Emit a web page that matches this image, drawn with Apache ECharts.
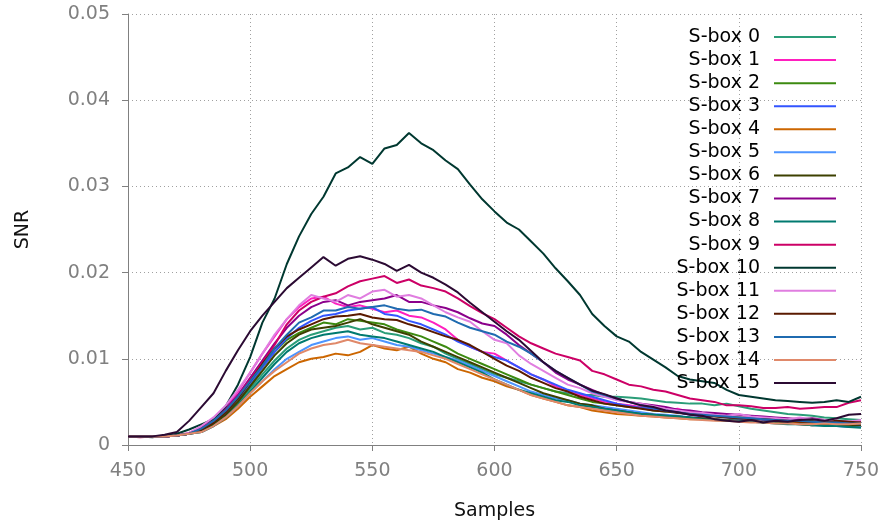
<!DOCTYPE html>
<html>
<head>
<meta charset="utf-8">
<title>SNR per S-box</title>
<script src="https://cdn.jsdelivr.net/npm/echarts@6/dist/echarts.min.js"></script>
<style>
  html, body { margin: 0; padding: 0; background: #fff; }
  #chart { width: 883px; height: 524px; }
</style>
</head>
<body>
<div id="chart"></div>
<script>
// x positions (samples), every 5th sample
const samples = [450,455,460,465,470,475,480,485,490,495,500,505,510,515,520,525,530,535,540,545,550,555,560,565,570,575,580,585,590,595,600,605,610,615,620,625,630,635,640,645,650,655,660,665,670,675,680,685,690,695,700,705,710,715,720,725,730,735,740,745,750]

// SNR values, in units of 1e-3
const sbox0 = [1.0,1.0,1.0,1.0,1.1,1.3, 1.6,2.3,3.4,4.8,6.5,8.2,9.8,11.2,12.2,12.8, 13.2,13.6,13.8,13.4,13.6,13.0,12.8,12.4,11.8,11.4, 10.6,10.0,9.4,8.8,8.2,7.8,7.4,7.0,6.6,6.2, 6.0,5.8,5.8,5.6,5.6,5.5,5.4,5.2,5.0,4.9, 4.8,4.8,4.6,4.8,4.5,4.2,4.0,3.8,3.6,3.5, 3.4,3.2,3.1,3.0,2.9]
const sbox1 = [1.0,1.0,1.0,1.0,1.1,1.3, 2.0,3.0,4.4,6.2,8.4,10.6,12.6,14.6,16.0,17.0, 17.2,16.4,16.0,16.2,15.8,15.4,15.6,15.0,14.8,14.2, 13.4,12.2,11.4,10.8,10.6,9.8,9.0,8.2,7.6,6.8, 6.2,5.8,5.4,5.0,4.8,4.6,4.4,4.2,4.0,4.2, 3.8,3.6,3.4,3.3,3.2,3.2,3.0,3.1,2.9,2.8, 2.9,2.7,2.7,2.6,2.8]
const sbox2 = [1.0,1.0,1.0,1.0,1.1,1.3, 1.7,2.5,3.6,5.2,7.0,9.0,10.8,12.2,13.0,13.6, 14.2,14.0,14.6,14.4,14.2,14.0,13.4,13.0,12.6,12.0, 11.4,10.6,10.0,9.4,8.8,8.2,7.6,7.0,6.6,6.2, 5.8,5.4,5.0,4.8,4.6,4.4,4.3,4.0,3.9,3.8, 3.6,3.4,3.6,3.3,3.2,3.1,3.0,2.9,2.8,3.0, 2.8,2.6,2.6,2.5,2.4]
const sbox3 = [1.0,1.0,1.0,1.0,1.1,1.3, 1.8,2.7,3.8,5.4,7.2,9.0,10.8,12.4,13.6,14.4, 15.0,15.2,15.6,15.8,16.0,15.2,15.0,14.4,14.0,13.4, 12.8,12.0,11.4,10.8,10.2,9.8,9.0,8.2,7.6,7.0, 6.4,6.0,5.6,5.2,4.8,4.5,4.3,4.2,4.0,3.8, 3.5,3.3,3.4,3.2,3.0,3.1,2.9,2.8,2.7,2.8, 2.6,2.5,2.4,2.5,2.4]
const sbox4 = [1.0,1.0,1.0,1.0,1.1,1.3, 1.5,2.2,3.0,4.2,5.6,6.8,8.0,8.8,9.6,10.0, 10.2,10.6,10.4,10.8,11.6,11.2,11.0,11.4,10.6,10.0, 9.6,8.8,8.4,7.8,7.4,6.8,6.4,5.8,5.4,5.0, 4.6,4.4,4.0,3.8,3.6,3.5,3.4,3.3,3.2,3.1, 3.0,3.0,2.9,2.8,2.8,2.7,2.7,2.6,2.6,2.6, 2.5,2.6,2.7,2.6,2.6]
const sbox5 = [1.0,1.0,1.0,1.0,1.1,1.3, 1.5,2.2,3.2,4.5,6.0,7.4,8.8,10.0,10.8,11.6, 12.0,12.4,12.6,12.2,12.4,12.0,11.6,11.4,11.0,10.6, 10.2,9.8,9.2,8.6,8.0,7.4,6.8,6.2,5.8,5.4, 5.2,4.8,4.6,4.4,4.2,4.0,3.8,3.6,3.5,3.4, 3.2,3.1,3.0,2.9,2.8,2.7,2.6,2.6,2.5,2.4, 2.3,2.3,2.2,2.1,2.2]
const sbox6 = [1.0,1.0,1.0,1.0,1.1,1.3, 1.6,2.4,3.5,5.0,6.8,8.6,10.4,11.8,12.8,13.4, 13.6,13.8,14.2,14.6,14.0,13.6,13.2,12.8,12.0,11.4, 10.8,10.2,9.6,9.0,8.4,7.8,7.2,6.6,6.0,5.6, 5.2,4.8,4.6,4.2,4.0,3.8,3.6,3.5,3.4,3.3, 3.2,3.1,3.0,2.9,2.8,2.8,2.6,2.6,2.5,2.4, 2.3,2.4,2.3,2.2,2.3]
const sbox7 = [1.0,1.0,1.0,1.0,1.1,1.3, 2.0,2.9,4.2,5.8,7.8,9.8,11.8,13.6,15.0,16.0, 16.6,16.8,16.2,16.6,16.8,17.0,17.4,16.6,16.6,16.2, 15.9,15.4,14.7,14.1,13.8,12.8,11.6,10.6,9.6,8.4, 7.6,7.0,6.4,5.8,5.4,5.0,4.8,4.6,4.4,4.1, 4.0,3.8,3.7,3.6,3.5,3.4,3.3,3.2,3.1,3.0, 3.1,2.9,2.8,2.7,2.6]
const sbox8 = [1.0,1.0,1.0,1.0,1.1,1.3, 1.5,2.2,3.2,4.6,6.2,7.8,9.4,10.8,11.8,12.4, 12.8,13.0,13.2,12.8,12.6,12.4,12.0,11.6,11.2,10.8, 10.2,9.6,9.0,8.4,7.6,7.0,6.4,6.0,5.6,5.2, 5.0,4.6,4.4,4.2,4.0,3.8,3.6,3.5,3.4,3.3, 3.2,3.0,2.9,2.8,2.8,2.7,2.6,2.5,2.4,2.4, 2.3,2.2,2.2,2.1,2.0]
const sbox9 = [1.0,0.9,1.0,1.0,1.1,1.4, 2.0,2.8,4.0,5.6,7.6,9.6,11.6,14.0,15.6,16.6, 17.2,17.6,18.4,19.0,19.3,19.6,18.8,19.2,18.5,18.2, 17.8,17.0,16.1,15.3,14.6,13.6,12.6,11.8,11.2,10.6, 10.2,9.8,8.6,8.2,7.6,7.0,6.8,6.4,6.2,5.8, 5.4,5.2,5.0,4.6,4.6,4.5,4.3,4.3,4.4,4.2, 4.3,4.4,4.4,4.9,5.2]
const sbox10 = [1.0,1.0,0.9,1.1,1.3,1.8, 2.4,3.0,4.5,7.0,10.2,14.2,17.0,21.0,24.2,26.8, 28.8,31.5,32.2,33.4,32.6,34.4,34.8,36.2,35.0,34.2, 33.0,32.0,30.2,28.5,27.1,25.8,25.0,23.6,22.2,20.5, 19.0,17.4,15.2,13.8,12.6,12.0,10.8,9.9,9.0,8.0, 7.6,7.4,7.2,6.4,5.8,5.6,5.4,5.2,5.1,5.0, 4.9,5.0,5.2,5.0,5.6]
const sbox11 = [1.0,1.0,1.0,1.0,1.1,1.4, 2.2,3.2,4.6,6.4,8.4,10.6,12.8,14.6,16.2,17.4, 17.0,16.6,17.4,17.0,17.8,18.0,17.2,17.4,17.0,16.2, 15.4,14.8,14.3,13.2,12.2,11.8,10.4,9.4,8.6,7.8, 7.0,6.6,6.0,5.6,5.2,5.0,4.8,4.5,4.2,4.0, 3.8,3.7,3.5,3.4,3.6,3.3,3.2,3.1,3.0,3.2, 3.0,2.9,2.8,2.7,2.9]
const sbox12 = [1.0,1.0,1.0,1.0,1.1,1.3, 1.8,2.6,3.8,5.4,7.4,9.4,11.2,12.6,13.4,14.0, 14.6,14.9,15.0,15.2,14.8,14.6,14.5,14.0,13.6,13.1, 12.6,12.2,11.6,10.8,10.0,9.2,8.6,7.8,7.2,6.6, 6.2,5.6,5.2,4.8,4.6,4.4,4.2,4.0,3.9,3.7, 3.6,3.4,3.3,3.2,3.1,3.0,3.0,2.9,2.8,2.7, 2.7,2.6,2.8,2.7,2.6]
const sbox13 = [1.0,1.0,1.0,1.0,1.1,1.3, 1.9,2.8,4.0,5.6,7.4,9.2,11.2,12.8,14.2,14.8, 15.6,15.6,16.0,15.8,16.0,16.2,15.8,15.6,15.7,15.2, 14.9,14.2,13.6,13.2,12.8,12.0,11.4,10.6,9.6,8.6, 7.8,7.0,6.2,5.8,5.4,5.0,4.6,4.3,4.0,3.8, 3.6,3.5,3.4,3.3,3.2,3.1,3.0,2.9,2.8,2.8, 2.7,2.6,2.6,2.5,2.5]
const sbox14 = [1.0,1.0,1.0,1.0,1.1,1.3, 1.5,2.2,3.2,4.5,6.0,7.4,8.6,9.6,10.6,11.2, 11.6,11.8,12.2,11.8,11.6,11.4,11.2,11.0,10.8,10.4, 10.0,9.4,8.8,8.2,7.6,7.0,6.4,5.8,5.4,5.0, 4.6,4.4,4.2,4.0,3.8,3.6,3.4,3.3,3.2,3.1, 3.0,2.9,2.8,2.8,2.7,2.6,2.6,2.5,2.5,2.4, 2.4,2.5,2.4,2.4,2.5]
const sbox15 = [1.0,1.0,1.0,1.2,1.5,2.8, 4.4,6.0,8.6,11.0,13.2,15.0,16.6,18.2,19.4,20.6, 21.8,20.8,21.6,21.9,21.5,21.0,20.2,20.9,20.0,19.4, 18.6,17.7,16.5,15.4,14.3,13.2,12.2,10.9,9.6,8.6, 7.8,7.0,6.3,5.9,5.4,5.0,4.6,4.4,4.0,3.8, 3.5,3.4,3.0,2.8,2.7,2.9,2.6,2.8,2.7,2.9, 3.0,2.8,3.1,3.5,3.6]

const seriesValues = [sbox0, sbox1, sbox2, sbox3, sbox4, sbox5, sbox6, sbox7,
  sbox8, sbox9, sbox10, sbox11, sbox12, sbox13, sbox14, sbox15]
const seriesNames = seriesValues.map((_, i) => 'S-box ' + i)
const colors = ['#2a9d78', '#ff1fbf', '#3c8a10', '#3355ff', '#cc6600', '#4d94ff', '#3d4000', '#8b008b',
  '#007a70', '#cc0066', '#003830', '#e07ee0', '#5a1a00', '#1f6bb0', '#e0896a', '#2b0a33']
const unit = 1e-3

const font = 'DejaVu Sans'
const gridColor = '#a0a0a0'
const axisColor = '#808080'

// one legend per entry, so text is right-aligned and line samples line up
const legends = seriesNames.map((name, i) => ({
  data: [name],
  right: 47,
  top: 27.5 + i * 23.07,
  align: 'right',
  icon: 'rect',
  itemWidth: 62,
  itemHeight: 2,
  padding: 0,
  selectedMode: false,
  textStyle: { fontFamily: font, fontSize: 19, color: '#000', padding: [0, 9, 0, 0] }
}))

const chart = echarts.init(document.getElementById('chart'))

chart.setOption({
  animation: false,
  color: colors,
  grid: { left: 128, right: 22, top: 14, bottom: 79, outerBoundsMode: 'none' },
  legend: legends,
  xAxis: {
    type: 'value',
    min: 450,
    max: 750,
    interval: 50,
    name: 'Samples',
    nameLocation: 'middle',
    nameGap: 57,
    nameTextStyle: { fontFamily: font, fontSize: 19, color: '#111' },
    axisLine: { lineStyle: { color: axisColor, width: 1 } },
    axisTick: { length: 6, lineStyle: { color: axisColor } },
    axisLabel: { fontFamily: font, fontSize: 19, color: axisColor, margin: 17 },
    splitLine: { show: true, lineStyle: { color: gridColor, type: [1, 3], width: 1 } }
  },
  yAxis: {
    type: 'value',
    min: 0,
    max: 0.05,
    interval: 0.01,
    name: 'SNR',
    nameLocation: 'middle',
    nameGap: 95,
    nameTextStyle: { fontFamily: font, fontSize: 19, color: '#111' },
    axisLine: { show: true, lineStyle: { color: axisColor, width: 1 } },
    axisTick: { show: true, length: 6, lineStyle: { color: axisColor } },
    axisLabel: { fontFamily: font, fontSize: 19, color: axisColor, margin: 18 },
    splitLine: { show: true, lineStyle: { color: gridColor, type: [1, 3], width: 1 } }
  },
  series: seriesValues.map((vals, i) => ({
    name: seriesNames[i],
    type: 'line',
    symbol: 'none',
    lineStyle: { width: 2 },
    data: vals.map((v, j) => [samples[j], v * unit])
  }))
})
</script>
</body>
</html>
